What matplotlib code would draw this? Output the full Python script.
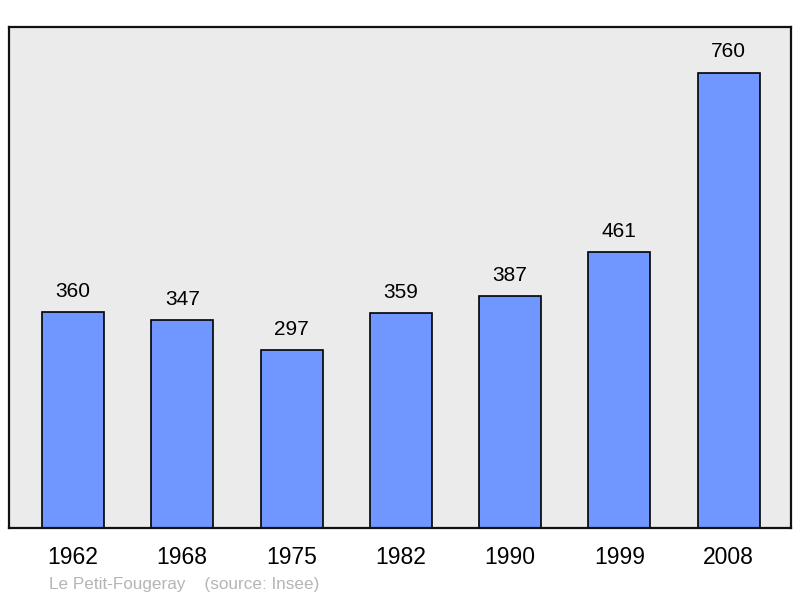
import matplotlib
matplotlib.use("Agg")
import matplotlib.pyplot as plt

years = ["1962", "1968", "1975", "1982", "1990", "1999", "2008"]
population = [360, 347, 297, 359, 387, 461, 760]
caption = "Le Petit-Fougeray    (source: Insee)"

plt.rcParams['font.family'] = ['Liberation Sans', 'DejaVu Sans']

W, H = 800, 598
fig = plt.figure(figsize=(W/100, H/100), dpi=100)
ax = fig.add_axes([9/W, (H-528)/H, 782/W, 501/H])
ax.set_facecolor('#ebebeb')

x = list(range(len(years)))
ax.bar(x, population, width=0.567, color='#7097ff', edgecolor='black', linewidth=1.2, zorder=2)
ax.set_xlim(-0.585, 6.57)
ax.set_ylim(0, max(population) * 1.1)

for xi, v in zip(x, population):
    ax.annotate(str(v), (xi, v), xytext=(0, 8), textcoords='offset points',
                ha='center', va='bottom', fontsize=15, color='black')

ax.set_yticks([])
ax.set_xticks(x)
ax.set_xticklabels(years, fontsize=16.5)
ax.tick_params(axis='x', length=0, pad=13)
for s in ax.spines.values():
    s.set_linewidth(1.6)
    s.set_color('#111111')

fig.text(49/W, 1 - 584/H, caption, fontsize=12.3, color='#b5b5b5', ha='left', va='center')

fig.savefig('out.png', dpi=100)
